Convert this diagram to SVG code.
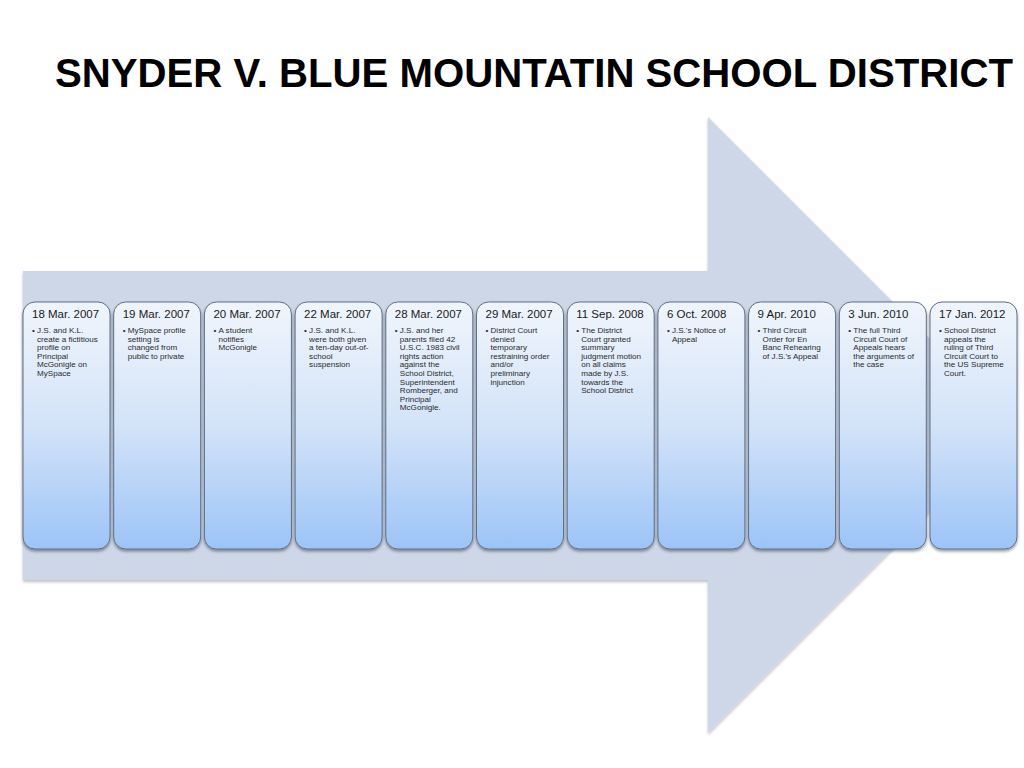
<svg xmlns="http://www.w3.org/2000/svg" width="1024" height="768" viewBox="0 0 1024 768">
<defs>
<linearGradient id="boxGrad" x1="0" y1="0" x2="0" y2="1">
<stop offset="0" stop-color="#f0f5fc"/>
<stop offset="0.5" stop-color="#d3e3f8"/>
<stop offset="1" stop-color="#9cc4f7"/>
</linearGradient>
<filter id="shadow" x="-10%" y="-10%" width="120%" height="120%">
<feDropShadow dx="0" dy="2" stdDeviation="1.5" flood-color="#000" flood-opacity="0.4"/>
</filter>
<filter id="arrowShadow" x="-5%" y="-5%" width="110%" height="110%">
<feDropShadow dx="0" dy="2" stdDeviation="1.5" flood-color="#000" flood-opacity="0.25"/>
</filter>
</defs>
<style>
.title{font-family:"Liberation Sans",Arial,sans-serif;font-weight:bold;font-size:40px;fill:#000}
.box{fill:url(#boxGrad);stroke:#5f6f8a;stroke-width:1;filter:url(#shadow)}
.date{font-family:"Liberation Sans",Arial,sans-serif;font-size:11.5px;fill:#1a1a1a}
.body{font-family:"Liberation Sans",Arial,sans-serif;font-size:8.1px;fill:#2a2a2a}
</style>
<rect width="1024" height="768" fill="#ffffff"/>
<text class="title" x="55" y="87" textLength="958" lengthAdjust="spacingAndGlyphs">SNYDER V. BLUE MOUNTATIN SCHOOL DISTRICT</text>
<g id="arrow">
<polygon points="23,271 708,271 708,117 1016,425 708,733 708,580 23,580" fill="#cdd7e7" filter="url(#arrowShadow)"/>
</g>
<g id="connectors"></g>
<g id="n1">
<rect class="box" x="23" y="302" width="87" height="247" rx="12"/>
<text class="date" x="32" y="318">18 Mar. 2007</text>
<text class="body" x="32" y="333">•</text>
<text class="body"><tspan x="37" y="333">J.S. and K.L.</tspan><tspan x="37" y="341.6">create a fictitious</tspan><tspan x="37" y="350.2">profile on</tspan><tspan x="37" y="358.8">Principal</tspan><tspan x="37" y="367.4">McGonigle on</tspan><tspan x="37" y="376">MySpace</tspan></text>
</g>
<g id="n2">
<rect class="box" x="113.7" y="302" width="87" height="247" rx="12"/>
<text class="date" x="122.7" y="318">19 Mar. 2007</text>
<text class="body" x="122.7" y="333">•</text>
<text class="body"><tspan x="127.7" y="333">MySpace profile</tspan><tspan x="127.7" y="341.6">setting is</tspan><tspan x="127.7" y="350.2">changed from</tspan><tspan x="127.7" y="358.8">public to private</tspan></text>
</g>
<g id="n3">
<rect class="box" x="204.4" y="302" width="87" height="247" rx="12"/>
<text class="date" x="213.4" y="318">20 Mar. 2007</text>
<text class="body" x="213.4" y="333">•</text>
<text class="body"><tspan x="218.4" y="333">A student</tspan><tspan x="218.4" y="341.6">notifies</tspan><tspan x="218.4" y="350.2">McGonigle</tspan></text>
</g>
<g id="n4">
<rect class="box" x="295.1" y="302" width="87" height="247" rx="12"/>
<text class="date" x="304.1" y="318">22 Mar. 2007</text>
<text class="body" x="304.1" y="333">•</text>
<text class="body"><tspan x="309.1" y="333">J.S. and K.L.</tspan><tspan x="309.1" y="341.6">were both given</tspan><tspan x="309.1" y="350.2">a ten-day out-of-</tspan><tspan x="309.1" y="358.8">school</tspan><tspan x="309.1" y="367.4">suspension</tspan></text>
</g>
<g id="n5">
<rect class="box" x="385.8" y="302" width="87" height="247" rx="12"/>
<text class="date" x="394.8" y="318">28 Mar. 2007</text>
<text class="body" x="394.8" y="333">•</text>
<text class="body"><tspan x="399.8" y="333">J.S. and her</tspan><tspan x="399.8" y="341.6">parents filed 42</tspan><tspan x="399.8" y="350.2">U.S.C. 1983 civil</tspan><tspan x="399.8" y="358.8">rights action</tspan><tspan x="399.8" y="367.4">against the</tspan><tspan x="399.8" y="376">School District,</tspan><tspan x="399.8" y="384.6">Superintendent</tspan><tspan x="399.8" y="393.2">Romberger, and</tspan><tspan x="399.8" y="401.8">Principal</tspan><tspan x="399.8" y="410.4">McGonigle.</tspan></text>
</g>
<g id="n6">
<rect class="box" x="476.5" y="302" width="87" height="247" rx="12"/>
<text class="date" x="485.5" y="318">29 Mar. 2007</text>
<text class="body" x="485.5" y="333">•</text>
<text class="body"><tspan x="490.5" y="333">District Court</tspan><tspan x="490.5" y="341.6">denied</tspan><tspan x="490.5" y="350.2">temporary</tspan><tspan x="490.5" y="358.8">restraining order</tspan><tspan x="490.5" y="367.4">and/or</tspan><tspan x="490.5" y="376">preliminary</tspan><tspan x="490.5" y="384.6">injunction</tspan></text>
</g>
<g id="n7">
<rect class="box" x="567.2" y="302" width="87" height="247" rx="12"/>
<text class="date" x="576.2" y="318">11 Sep. 2008</text>
<text class="body" x="576.2" y="333">•</text>
<text class="body"><tspan x="581.2" y="333">The District</tspan><tspan x="581.2" y="341.6">Court granted</tspan><tspan x="581.2" y="350.2">summary</tspan><tspan x="581.2" y="358.8">judgment motion</tspan><tspan x="581.2" y="367.4">on all claims</tspan><tspan x="581.2" y="376">made by J.S.</tspan><tspan x="581.2" y="384.6">towards the</tspan><tspan x="581.2" y="393.2">School District</tspan></text>
</g>
<g id="n8">
<rect class="box" x="657.9" y="302" width="87" height="247" rx="12"/>
<text class="date" x="666.9" y="318">6 Oct. 2008</text>
<text class="body" x="666.9" y="333">•</text>
<text class="body"><tspan x="671.9" y="333">J.S.'s Notice of</tspan><tspan x="671.9" y="341.6">Appeal</tspan></text>
</g>
<g id="n9">
<rect class="box" x="748.6" y="302" width="87" height="247" rx="12"/>
<text class="date" x="757.6" y="318">9 Apr. 2010</text>
<text class="body" x="757.6" y="333">•</text>
<text class="body"><tspan x="762.6" y="333">Third Circuit</tspan><tspan x="762.6" y="341.6">Order for En</tspan><tspan x="762.6" y="350.2">Banc Rehearing</tspan><tspan x="762.6" y="358.8">of J.S.'s Appeal</tspan></text>
</g>
<g id="n10">
<rect class="box" x="839.3" y="302" width="87" height="247" rx="12"/>
<text class="date" x="848.3" y="318">3 Jun. 2010</text>
<text class="body" x="848.3" y="333">•</text>
<text class="body"><tspan x="853.3" y="333">The full Third</tspan><tspan x="853.3" y="341.6">Circuit Court of</tspan><tspan x="853.3" y="350.2">Appeals hears</tspan><tspan x="853.3" y="358.8">the arguments of</tspan><tspan x="853.3" y="367.4">the case</tspan></text>
</g>
<g id="n11">
<rect class="box" x="930" y="302" width="87" height="247" rx="12"/>
<text class="date" x="939" y="318">17 Jan. 2012</text>
<text class="body" x="939" y="333">•</text>
<text class="body"><tspan x="944" y="333">School District</tspan><tspan x="944" y="341.6">appeals the</tspan><tspan x="944" y="350.2">ruling of Third</tspan><tspan x="944" y="358.8">Circuit Court to</tspan><tspan x="944" y="367.4">the US Supreme</tspan><tspan x="944" y="376">Court.</tspan></text>
</g>
</svg>
